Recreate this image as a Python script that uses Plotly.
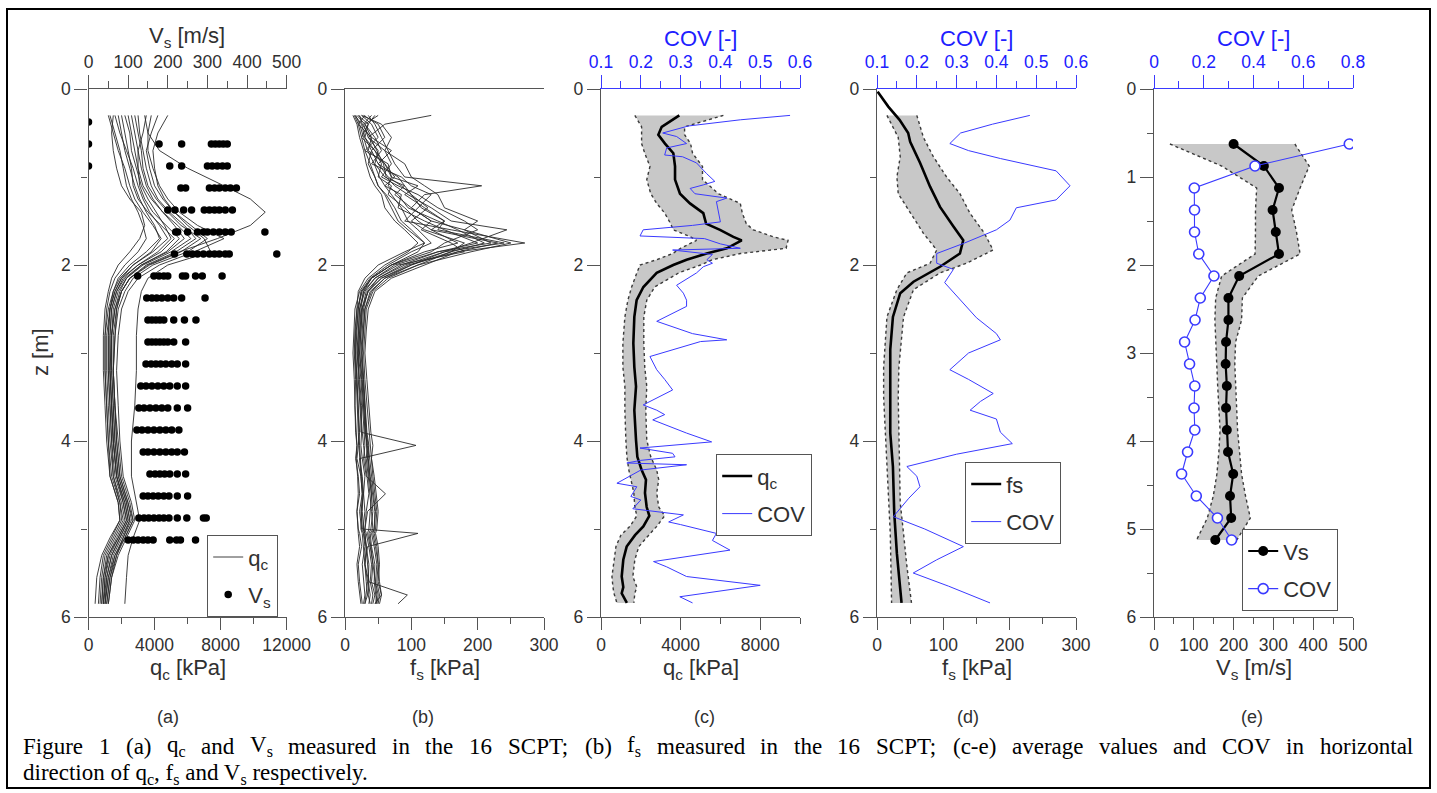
import re
import plotly.graph_objects as go

W, H = 1437, 793
def X(px): return px / W
def Y(py): return 1 - py / H

FONT = "Liberation Sans"
SERIF = "Liberation Serif"
AX = "#555555"
TXT = "#303030"
BLUE = "#3a3aff"
BLUE_T = "#2020ff"
GRAY_FILL = "#c8c8c8"

# ---------------- data: panel (a) qc profiles (kPa) ----------------
qc_depth = [0.3, 0.5, 0.7, 0.9, 1.1, 1.25, 1.4, 1.55, 1.7, 1.85, 2.0, 2.15, 2.3, 2.5, 2.8,
            3.2, 3.6, 4.0, 4.4, 4.7, 4.9, 5.1, 5.3, 5.55, 5.85]
qc_c1 = [1300, 1600, 1900, 2100, 2300, 2600, 3000, 3300, 3500, 3000, 2200, 1600, 1300, 1100, 1000, 1000, 1100, 1200, 1400, 1900, 2000, 1500, 1000, 800, 700]
qc_c2 = [1800, 2000, 2200, 2500, 2800, 3100, 3500, 4000, 4300, 3500, 2500, 1800, 1500, 1300, 1200, 1200, 1300, 1400, 1600, 2100, 2300, 1800, 1200, 900, 800]
qc_c3 = [2200, 2500, 2600, 2900, 3200, 3600, 4100, 4600, 5000, 4200, 3000, 2100, 1700, 1400, 1300, 1300, 1400, 1500, 1700, 2200, 2400, 1900, 1400, 1100, 900]
qc_c4 = [2600, 2800, 3000, 3200, 3500, 3900, 4500, 5200, 5800, 4800, 3200, 2300, 1800, 1500, 1400, 1400, 1500, 1600, 1800, 2300, 2500, 2000, 1500, 1200, 1000]
qc_c5 = [3000, 3100, 3300, 3500, 3800, 4200, 4900, 5800, 6500, 5300, 3500, 2500, 2000, 1700, 1500, 1500, 1600, 1700, 1900, 2400, 2600, 2100, 1600, 1300, 1100]
qc_c6 = [3500, 3300, 3000, 3000, 3300, 3800, 4500, 5400, 6200, 5000, 3300, 2300, 1900, 1600, 1400, 1400, 1500, 1600, 1800, 2300, 2500, 2100, 1700, 1400, 1200]
qc_c7 = [4200, 3800, 3500, 3700, 4000, 4500, 5200, 6200, 7200, 6000, 3900, 2700, 2200, 1800, 1600, 1500, 1600, 1700, 1900, 2400, 2700, 2200, 1700, 1300, 1100]
qc_c8 = [1500, 1400, 1500, 1700, 2000, 2500, 3200, 3400, 3100, 2500, 1800, 1400, 1200, 1000, 900, 900, 1000, 1100, 1300, 1800, 1900, 1400, 900, 700, 600]
qc_c9 = [2000, 2200, 2400, 2600, 2700, 3000, 3600, 4400, 5200, 4400, 3000, 2000, 1600, 1300, 1200, 1200, 1300, 1400, 1500, 2000, 2200, 1700, 1200, 1000, 900]
qc_c10 = [2800, 3000, 3200, 3300, 3600, 4100, 4800, 5600, 6800, 5600, 3700, 2500, 2000, 1700, 1600, 1500, 1600, 1800, 2000, 2500, 2700, 2200, 1600, 1200, 1000]
qc_c11 = [1600, 1900, 2300, 2700, 3000, 3300, 3700, 4300, 4800, 3900, 2700, 2000, 1600, 1300, 1100, 1100, 1200, 1300, 1500, 1900, 2100, 1600, 1100, 900, 800]
qc_c12 = [3800, 3600, 3600, 3900, 4300, 4800, 5500, 6600, 8200, 6400, 4300, 3000, 2400, 2000, 1800, 1700, 1800, 1900, 2100, 2600, 2800, 2300, 1800, 1400, 1200]
qc_c13 = [2400, 2600, 2800, 3000, 3100, 3400, 3900, 4700, 5500, 4700, 3200, 2200, 1700, 1400, 1300, 1300, 1400, 1500, 1700, 2100, 2300, 1800, 1300, 1000, 900]
qc_c14 = [4800, 4200, 3900, 4000, 4200, 4600, 5200, 6000, 7000, 7400, 4800, 3600, 3200, 3000, 2900, 2900, 2800, 2600, 2600, 2900, 3100, 2700, 2400, 2300, 2200]
qc_c15 = [1200, 1500, 1800, 2200, 2500, 2800, 3300, 3900, 4400, 3800, 2700, 1900, 1500, 1200, 1000, 1000, 1100, 1200, 1300, 1800, 1900, 1300, 800, 500, 400]
qc_c16 = [3400, 3600, 4300, 6000, 8200, 9800, 10700, 9800, 7800, 5500, 3600, 2500, 2000, 1600, 1400, 1300, 1400, 1500, 1700, 2200, 2400, 1900, 1400, 1100, 1000]
qc_curves = [qc_c1, qc_c2, qc_c3, qc_c4, qc_c5, qc_c6, qc_c7, qc_c8, qc_c9, qc_c10,
             qc_c11, qc_c12, qc_c13, qc_c14, qc_c15, qc_c16]

# panel (a) Vs measurements (m/s) per depth row
vs_row_depth = [0.375, 0.625, 0.875, 1.125, 1.375, 1.625, 1.875, 2.125, 2.375, 2.625,
                2.875, 3.125, 3.375, 3.625, 3.875, 4.125, 4.375, 4.625, 4.875, 5.125]
vs_rows = [
    [0],
    [0, 178, 235, 310, 320, 330, 340, 350],
    [0, 205, 235, 300, 312, 325, 338, 350],
    [233, 245, 305, 318, 330, 345, 358, 373],
    [200, 218, 240, 260, 292, 305, 318, 330, 345, 363],
    [220, 225, 250, 275, 290, 300, 315, 330, 345, 360, 445],
    [217, 248, 262, 275, 290, 305, 318, 330, 345, 355, 475],
    [124, 165, 178, 190, 200, 237, 245, 270, 287, 337],
    [147, 160, 172, 185, 200, 215, 235, 294],
    [150, 160, 170, 180, 190, 215, 242, 271],
    [150, 160, 170, 180, 190, 200, 215, 245],
    [145, 158, 170, 182, 195, 210, 224, 245],
    [132, 145, 160, 175, 190, 205, 224, 245],
    [127, 140, 155, 170, 185, 200, 224, 250],
    [122, 135, 150, 165, 180, 195, 210, 228],
    [138, 150, 165, 180, 195, 210, 224, 242],
    [155, 168, 180, 192, 205, 224, 245],
    [138, 150, 163, 176, 190, 203, 224, 250],
    [127, 140, 152, 165, 178, 190, 203, 224, 248, 290, 297],
    [100, 113, 125, 138, 150, 163, 205, 222, 232, 270],
]

# ---------------- panel (b) fs profiles (kPa) ----------------
fs_depth = [0.3, 0.4, 0.55, 0.7, 0.85, 1.0, 1.1, 1.2, 1.35, 1.5, 1.6, 1.75, 1.85, 2.0, 2.15,
            2.3, 2.5, 2.75, 3.0, 3.3, 3.6, 3.9, 4.05, 4.2, 4.4, 4.6, 4.8, 5.0, 5.05, 5.2,
            5.4, 5.6, 5.75, 5.85]
fs_c1 = [15, 25, 30, 40, 35, 45, 50, 60, 70, 80, 95, 120, 90, 50, 30, 20, 18, 15, 14, 16, 15, 17, 18, 16, 20, 22, 18, 20, 22, 25, 20, 22, 24, 26]
fs_c2 = [20, 35, 25, 45, 55, 50, 70, 65, 90, 110, 130, 170, 120, 70, 40, 25, 20, 18, 16, 18, 20, 22, 20, 18, 24, 26, 22, 25, 28, 30, 26, 28, 30, 28]
fs_c3 = [30, 20, 40, 35, 60, 75, 60, 85, 80, 120, 150, 200, 140, 75, 45, 30, 22, 20, 18, 22, 25, 24, 107, 22, 26, 28, 30, 27, 30, 32, 30, 34, 32, 30]
fs_c4 = [130, 60, 35, 50, 45, 60, 90, 75, 100, 130, 115, 160, 180, 80, 45, 28, 22, 20, 19, 20, 22, 25, 24, 26, 30, 28, 24, 26, 110, 34, 30, 36, 35, 38]
fs_c5 = [25, 40, 50, 30, 65, 70, 110, 90, 120, 150, 140, 240, 150, 90, 50, 35, 25, 22, 20, 24, 26, 28, 30, 28, 32, 61, 34, 30, 32, 36, 40, 38, 42, 40]
fs_c6 = [18, 30, 45, 55, 40, 85, 100, 130, 110, 90, 160, 271, 170, 95, 55, 35, 26, 24, 22, 25, 28, 30, 32, 34, 36, 40, 38, 36, 34, 38, 42, 40, 45, 42]
fs_c7 = [40, 28, 35, 60, 70, 55, 80, 110, 140, 180, 200, 150, 130, 70, 40, 28, 24, 22, 20, 21, 23, 26, 28, 30, 33, 36, 32, 30, 28, 32, 36, 35, 38, 36]
fs_c8 = [12, 18, 22, 28, 32, 38, 45, 55, 60, 75, 90, 110, 95, 60, 35, 22, 15, 13, 12, 14, 15, 16, 18, 17, 19, 20, 18, 19, 20, 22, 18, 20, 22, 24]
fs_c9 = [35, 45, 55, 65, 75, 90, 206, 120, 100, 130, 180, 220, 140, 85, 50, 32, 26, 24, 22, 26, 28, 30, 34, 32, 35, 38, 40, 42, 38, 40, 45, 44, 46, 48]
fs_c10 = [22, 26, 38, 48, 58, 62, 75, 95, 130, 160, 244, 190, 150, 100, 60, 40, 30, 28, 26, 28, 30, 33, 36, 35, 38, 42, 45, 44, 40, 44, 48, 46, 50, 48]
fs_c11 = [28, 50, 60, 40, 50, 80, 90, 100, 125, 100, 120, 180, 160, 110, 65, 42, 32, 30, 28, 30, 33, 36, 38, 40, 42, 45, 48, 46, 44, 48, 50, 48, 52, 50]
fs_c12 = [16, 22, 28, 34, 44, 52, 60, 70, 85, 95, 110, 130, 100, 65, 38, 24, 20, 17, 16, 18, 19, 21, 22, 23, 25, 27, 26, 28, 30, 32, 34, 36, 94, 80]
fs_c13 = [45, 35, 30, 45, 60, 70, 65, 80, 95, 140, 170, 210, 160, 100, 55, 34, 28, 26, 24, 27, 29, 31, 33, 35, 37, 40, 42, 39, 36, 39, 42, 45, 48, 46]
fs_c14 = [25, 55, 70, 60, 90, 100, 120, 140, 150, 200, 180, 250, 190, 110, 60, 38, 30, 27, 25, 28, 30, 32, 35, 37, 40, 43, 46, 44, 42, 46, 50, 52, 55, 52]
fs_c15 = [14, 20, 25, 30, 38, 45, 50, 62, 75, 85, 100, 120, 110, 70, 40, 26, 18, 16, 15, 17, 18, 20, 21, 22, 24, 26, 25, 24, 26, 28, 30, 32, 34, 30]
fs_c16 = [50, 30, 40, 70, 50, 65, 85, 100, 115, 150, 130, 230, 170, 120, 70, 45, 35, 32, 30, 33, 36, 39, 42, 40, 44, 47, 50, 48, 46, 50, 52, 50, 55, 45]
fs_curves = [fs_c1, fs_c2, fs_c3, fs_c4, fs_c5, fs_c6, fs_c7, fs_c8, fs_c9, fs_c10,
             fs_c11, fs_c12, fs_c13, fs_c14, fs_c15, fs_c16]

# ---------------- panel (c) mean qc, band, COV ----------------
qcm_depth = [0.3, 0.43, 0.52, 0.62, 0.73, 0.88, 1.03, 1.19, 1.30, 1.41, 1.53, 1.60, 1.68, 1.72,
             1.81, 1.87, 1.94, 2.0, 2.09, 2.25, 2.40, 2.59, 2.89, 3.16, 3.38, 3.65, 3.99, 4.18,
             4.33, 4.44, 4.59, 4.75, 4.85, 4.97, 5.07, 5.20, 5.35, 5.54, 5.66, 5.73, 5.84]
qc_mean = [3935, 3050, 2880, 3216, 3635, 3720, 3720, 3970, 4470, 5140, 5280, 5980, 6650, 7070,
           6320, 5310, 4300, 3630, 2800, 2130, 1790, 1675, 1625, 1675, 1760, 1675, 1760, 1826,
           2043, 2260, 2210, 2295, 2428, 2127, 1710, 1290, 1120, 1040, 1120, 1040, 1300]
qc_lo = [1700, 2040, 2040, 2040, 2200, 2460, 2300, 2500, 2800, 3200, 3500, 3630, 4500, 4800,
         4000, 3600, 2800, 1960, 1800, 1540, 1350, 1200, 1100, 1100, 1200, 1200, 1250, 1300,
         1400, 1500, 1650, 1700, 1800, 1450, 1000, 750, 650, 550, 600, 650, 800]
qc_hi = [6150, 4200, 4200, 4500, 4600, 5100, 5100, 5900, 7000, 7100, 7300, 7650, 8650, 9400,
         9300, 7000, 5600, 5000, 3900, 2700, 2300, 2150, 2150, 2200, 2300, 2250, 2300, 2500,
         2800, 2900, 2800, 2900, 3200, 2800, 2400, 1900, 1700, 1600, 1800, 1700, 1650]
covc_depth = [0.3, 0.35, 0.42, 0.50, 0.54, 0.62, 0.67, 0.75, 0.77, 0.84, 0.96, 1.05, 1.09, 1.13,
              1.19, 1.24, 1.28, 1.41, 1.51, 1.55, 1.60, 1.67, 1.70, 1.76, 1.81, 1.83, 1.88,
              1.94, 1.98, 2.02, 2.09, 2.23, 2.32, 2.40, 2.47, 2.64, 2.70, 2.78, 2.85, 2.87,
              3.04, 3.19, 3.30, 3.42, 3.59, 3.65, 3.70, 3.76, 3.91, 4.01, 4.08, 4.14, 4.18,
              4.22, 4.25, 4.27, 4.33, 4.48, 4.52, 4.63, 4.67, 4.77, 4.84, 4.92, 4.95, 5.05,
              5.13, 5.24, 5.37, 5.43, 5.54, 5.64, 5.77, 5.84]
cov_c = [0.575, 0.45, 0.32, 0.255, 0.29, 0.315, 0.265, 0.26, 0.305, 0.34, 0.365, 0.386, 0.357, 0.324,
         0.336, 0.416, 0.39, 0.395, 0.40, 0.33, 0.206, 0.198, 0.36, 0.40, 0.45, 0.28, 0.38,
         0.366, 0.38, 0.357, 0.34, 0.29, 0.307, 0.315, 0.315, 0.24, 0.28, 0.33, 0.416, 0.35,
         0.223, 0.24, 0.26, 0.28, 0.206, 0.24, 0.26, 0.23, 0.315, 0.378, 0.198, 0.28, 0.286,
         0.20, 0.165, 0.315, 0.20, 0.14, 0.19, 0.175, 0.20, 0.18, 0.307, 0.27, 0.30, 0.39,
         0.38, 0.424, 0.232, 0.265, 0.315, 0.50, 0.298, 0.33]

# ---------------- panel (d) mean fs, band, COV ----------------
fsm_depth = [0.03, 0.2, 0.35, 0.5, 0.6, 0.84, 1.11, 1.34, 1.56, 1.72, 1.87, 2.02, 2.19, 2.32,
             2.59, 2.96, 3.5, 3.91, 4.29, 4.82, 5.28, 5.84]
fs_mean = [1, 17, 34, 47, 50, 65, 80, 95, 115, 130, 125, 95, 55, 35, 24, 20, 20, 20, 24, 26, 30, 37]
fsb_depth = [0.3, 0.55, 0.77, 1.0, 1.19, 1.41, 1.64, 1.83, 1.98, 2.09, 2.28, 2.59, 3.16, 3.5,
             4.29, 4.7, 5.05, 5.42, 5.84]
fs_lo = [15, 32, 35, 30, 32, 50, 70, 90, 80, 45, 30, 15, 10, 10, 15, 17, 20, 21, 22]
fs_hi = [60, 70, 85, 105, 125, 140, 162, 175, 135, 95, 55, 40, 33, 32, 34, 35, 40, 45, 52]
covd_depth = [0.3, 0.4, 0.5, 0.62, 0.7, 0.79, 0.93, 1.1, 1.26, 1.35, 1.49, 1.6, 1.75, 1.87,
              1.98, 2.05, 2.2, 2.47, 2.6, 2.78, 2.85, 3.0, 3.19, 3.3, 3.46, 3.55, 3.65, 3.75,
              3.9, 4.03, 4.15, 4.29, 4.4, 4.52, 4.65, 4.86, 5.0, 5.2, 5.35, 5.5, 5.65, 5.84]
cov_d = [0.484, 0.39, 0.31, 0.283, 0.33, 0.41, 0.55, 0.585, 0.55, 0.45, 0.434, 0.40, 0.32, 0.25,
         0.25, 0.292, 0.27, 0.325, 0.35, 0.40, 0.41, 0.33, 0.283, 0.33, 0.392, 0.36, 0.334, 0.40,
         0.41, 0.44, 0.30, 0.175, 0.20, 0.208, 0.18, 0.141, 0.22, 0.317, 0.25, 0.191, 0.28, 0.384]

# ---------------- panel (e) mean Vs, band, COV ----------------
vse_depth = [0.625, 0.875, 1.125, 1.375, 1.625, 1.875, 2.125, 2.375, 2.625, 2.875, 3.125,
             3.375, 3.625, 3.875, 4.125, 4.375, 4.625, 4.875, 5.125]
vs_mean = [200, 276, 314, 298, 306, 314, 214, 187, 187, 181, 180, 183, 181, 183, 186, 199, 191, 194, 154]
vs_lo = [40, 170, 258, 255, 255, 254, 170, 155, 153, 155, 158, 160, 163, 166, 163, 158, 149, 134, 107]
vs_hi = [354, 390, 367, 346, 358, 367, 262, 222, 220, 205, 203, 205, 207, 210, 215, 220, 230, 242, 208]
cov_e = [0.785, 0.406, 0.162, 0.163, 0.163, 0.180, 0.241, 0.186, 0.165, 0.123, 0.143, 0.164,
         0.161, 0.164, 0.135, 0.111, 0.170, 0.255, 0.312]

# caption words
caption_line1 = ["Figure", "1", "(a)", "q<sub>c</sub>", "and", "V<sub>s</sub>", "measured", "in",
                 "the", "16", "SCPT;", "(b)", "f<sub>s</sub>", "measured", "in", "the", "16",
                 "SCPT;", "(c-e)", "average", "values", "and", "COV", "in", "horizontal"]
caption_line2 = "direction of q<sub>c</sub>, f<sub>s</sub> and V<sub>s</sub> respectively."

# ---------------- figure ----------------
fig = go.Figure()

# (a) qc curves
for i, c in enumerate(qc_curves):
    fig.add_trace(go.Scatter(x=c, y=qc_depth, mode="lines", xaxis="x", yaxis="y",
                             line=dict(color="#2a2a2a", width=0.9), name="q<sub>c</sub>",
                             showlegend=(i == 0), legend="legend", legendgroup="qa",
                             hoverinfo="skip"))
vs_x, vs_y = [], []
for z, row in zip(vs_row_depth, vs_rows):
    for v in row:
        vs_x.append(v)
        vs_y.append(z)
fig.add_trace(go.Scatter(x=vs_x, y=vs_y, mode="markers", xaxis="x2", yaxis="y",
                         marker=dict(color="black", size=7.5), name="V<sub>s</sub>",
                         legend="legend", legendgroup="va"))

# (b) fs curves
for c in fs_curves:
    fig.add_trace(go.Scatter(x=c, y=fs_depth, mode="lines", xaxis="x3", yaxis="y2",
                             line=dict(color="#2a2a2a", width=0.9), showlegend=False,
                             hoverinfo="skip"))

def band(lo, hi, z, xa, ya):
    fig.add_trace(go.Scatter(x=lo + hi[::-1], y=z + z[::-1], mode="lines", fill="toself",
                             fillcolor=GRAY_FILL, line=dict(width=0), xaxis=xa, yaxis=ya,
                             showlegend=False, hoverinfo="skip"))
    for edge in (lo, hi):
        fig.add_trace(go.Scatter(x=edge, y=z, mode="lines", xaxis=xa, yaxis=ya,
                                 line=dict(color="#3a3a3a", width=1.4, dash="dot"),
                                 showlegend=False, hoverinfo="skip"))

# (c)
band(qc_lo, qc_hi, qcm_depth, "x4", "y3")
fig.add_trace(go.Scatter(x=cov_c, y=covc_depth, mode="lines", xaxis="x5", yaxis="y3",
                         line=dict(color=BLUE, width=1), name="COV", legend="legend2",
                         legendgroup="cc", legendrank=2))
fig.add_trace(go.Scatter(x=qc_mean, y=qcm_depth, mode="lines", xaxis="x4", yaxis="y3",
                         line=dict(color="black", width=2.6), name="q<sub>c</sub>",
                         legend="legend2", legendgroup="qc", legendrank=1))

# (d)
band(fs_lo, fs_hi, fsb_depth, "x6", "y4")
fig.add_trace(go.Scatter(x=cov_d, y=covd_depth, mode="lines", xaxis="x7", yaxis="y4",
                         line=dict(color=BLUE, width=1), name="COV", legend="legend3",
                         legendgroup="cd", legendrank=2))
fig.add_trace(go.Scatter(x=fs_mean, y=fsm_depth, mode="lines", xaxis="x6", yaxis="y4",
                         line=dict(color="black", width=2.6), name="fs",
                         legend="legend3", legendgroup="fd", legendrank=1))

# (e)
band(vs_lo, vs_hi, vse_depth, "x8", "y5")
fig.add_trace(go.Scatter(x=vs_mean, y=vse_depth, mode="lines+markers", xaxis="x8", yaxis="y5",
                         line=dict(color="black", width=2.2),
                         marker=dict(color="black", size=10), name="Vs",
                         legend="legend4", legendgroup="ve", legendrank=1))
fig.add_trace(go.Scatter(x=cov_e, y=vse_depth, mode="lines+markers", xaxis="x9", yaxis="y5",
                         line=dict(color=BLUE, width=1.1),
                         marker=dict(color="white", size=10, symbol="circle",
                                     line=dict(color=BLUE, width=1.6)),
                         name="COV", legend="legend4", legendgroup="ce", legendrank=2))

# ---------------- axes ----------------
ydom = [Y(617), Y(89)]
tickfont = dict(family=FONT, size=17.5, color=TXT)
bluefont = dict(family=FONT, size=17.5, color=BLUE_T)

def xax(dom, rng, dtick, mdtick, anchor, color=AX, font=tickfont, side="bottom",
        overlaying=None, tick0=0, ticklen=12, mlen=6, mirror=False, fmt=None):
    d = dict(range=rng, anchor=anchor, side=side, showgrid=False, zeroline=False,
             showline=True, linecolor=color, linewidth=1.3, ticks="outside",
             tickcolor=color, tickwidth=1.3, ticklen=ticklen, tickfont=font,
             tickmode="linear", tick0=tick0, dtick=dtick, mirror=mirror,
             minor=dict(ticks="outside", tickmode="linear", tick0=tick0, dtick=mdtick,
                        ticklen=mlen, tickcolor=color, tickwidth=1.3, showgrid=False))
    if fmt:
        d["tickformat"] = fmt
    if overlaying:
        d["overlaying"] = overlaying
    else:
        d["domain"] = dom
    return d

def yax(anchor, dtick=2, mdtick=1):
    return dict(domain=ydom, range=[6, 0], anchor=anchor, showgrid=False, zeroline=False,
                showline=True, linecolor=AX, linewidth=1.3, ticks="outside", tickcolor=AX,
                tickwidth=1.3, ticklen=13, tickfont=tickfont, tickmode="linear", tick0=0,
                dtick=dtick,
                minor=dict(ticks="outside", tickmode="linear", tick0=0, dtick=mdtick,
                           ticklen=6, tickcolor=AX, tickwidth=1.3, showgrid=False))

PA = [X(88.5), X(286.7)]
PB = [X(345), X(544)]
PC = [X(601), X(800)]
PD = [X(877), X(1076)]
PE = [X(1154), X(1353)]

layout = dict(
    width=W, height=H, margin=dict(l=0, r=0, t=0, b=0, autoexpand=False),
    paper_bgcolor="white", plot_bgcolor="rgba(0,0,0,0)",
    xaxis=xax(PA, [0, 12000], 4000, 2000, "y", fmt="d"),
    xaxis2=xax(None, [0, 500], 100, 50, "y", side="top", overlaying="x", ticklen=13, mlen=7),
    yaxis=yax("x"),
    xaxis3=xax(PB, [0, 300], 100, 50, "y2", mirror=True),
    yaxis2=yax("x3"),
    xaxis4=xax(PC, [0, 10000], 4000, 2000, "y3", fmt="d"),
    xaxis5=xax(None, [0.1, 0.6], 0.1, 0.05, "y3", color=BLUE, font=bluefont, side="top",
               overlaying="x4", tick0=0.1, ticklen=13, mlen=7),
    yaxis3=yax("x4"),
    xaxis6=xax(PD, [0, 300], 100, 50, "y4"),
    xaxis7=xax(None, [0.1, 0.6], 0.1, 0.05, "y4", color=BLUE, font=bluefont, side="top",
               overlaying="x6", tick0=0.1, ticklen=13, mlen=7),
    yaxis4=yax("x6"),
    xaxis8=xax(PE, [0, 500], 100, 50, "y5"),
    xaxis9=xax(None, [0, 0.8], 0.2, 0.1, "y5", color=BLUE, font=bluefont, side="top",
               overlaying="x8", ticklen=13, mlen=7),
    yaxis5=yax("x8", dtick=1, mdtick=0.5),
    font=dict(family=FONT, color=TXT),
)

legend_common = dict(bgcolor="white", bordercolor="#555555", borderwidth=1.2,
                     font=dict(family=FONT, size=22, color=TXT), xanchor="left",
                     yanchor="top", tracegroupgap=6, itemwidth=30, traceorder="grouped")
layout["legend"] = dict(x=X(207), y=Y(535), **legend_common)
layout["legend2"] = dict(x=X(716), y=Y(454), **legend_common)
layout["legend3"] = dict(x=X(965), y=Y(462), **legend_common)
layout["legend4"] = dict(x=X(1242), y=Y(529), **legend_common)
layout["showlegend"] = True

def ann(text, x, y, size=22, color=TXT, family=FONT, angle=0, xanchor="center"):
    return dict(text=text, x=X(x), y=Y(y), xref="paper", yref="paper", showarrow=False,
                font=dict(family=family, size=size, color=color), textangle=angle,
                xanchor=xanchor, yanchor="middle", borderpad=0)

annotations = [
    ann("V<sub>s</sub> [m/s]", 187, 37),
    ann("COV [-]", 700.5, 38, color=BLUE_T),
    ann("COV [-]", 976.5, 38, color=BLUE_T),
    ann("COV [-]", 1253.5, 38, color=BLUE_T),
    ann("q<sub>c</sub> [kPa]", 187.6, 669),
    ann("f<sub>s</sub> [kPa]", 444.5, 669),
    ann("q<sub>c</sub> [kPa]", 700.5, 669),
    ann("f<sub>s</sub> [kPa]", 976.5, 669),
    ann("V<sub>s</sub> [m/s]", 1253.5, 669),
    ann("z [m]", 40, 352, angle=-90),
    ann("(a)", 168, 717, size=18),
    ann("(b)", 423, 717, size=18),
    ann("(c)", 704, 717, size=18),
    ann("(d)", 968, 717, size=18),
    ann("(e)", 1252, 717, size=18),
]

# justified caption line 1 (Times metrics, Liberation Serif is metric compatible)
TIMES = {" ": 250, "(": 333, ")": 333, ";": 278, ",": 250, ".": 250, "-": 333, "1": 500,
         "6": 500, "F": 556, "S": 556, "C": 667, "P": 556, "T": 611, "O": 722, "V": 722,
         "a": 444, "b": 500, "c": 444, "d": 500, "e": 444, "f": 333, "g": 500, "h": 500,
         "i": 278, "l": 278, "m": 778, "n": 500, "o": 500, "p": 500, "q": 500, "r": 333,
         "s": 389, "t": 278, "u": 500, "v": 500, "y": 500, "z": 444}
CAP = 23
def text_width(s, size):
    w = 0.0
    for part, sub in re.findall(r"([^<]+)|<sub>([^<]*)</sub>", s):
        if part:
            w += sum(TIMES.get(ch, 500) for ch in part) * size / 1000
        if sub:
            w += sum(TIMES.get(ch, 500) for ch in sub) * size * 0.7 / 1000
    return w

left, right = 22, 1412
widths = [text_width(w, CAP) for w in caption_line1]
gap = (right - left - sum(widths)) / (len(caption_line1) - 1)
xpos = left
for word, wdt in zip(caption_line1, widths):
    annotations.append(ann(word, xpos, 746, size=CAP, color="black", family=SERIF,
                           xanchor="left"))
    xpos += wdt + gap
annotations.append(ann(caption_line2, left, 774, size=CAP, color="black", family=SERIF,
                       xanchor="left"))

layout["annotations"] = annotations
layout["shapes"] = [dict(type="rect", xref="paper", yref="paper", x0=X(7), x1=X(1430),
                         y0=Y(788), y1=Y(9), line=dict(color="black", width=2))]

fig.update_layout(**layout)
fig.write_html("out.html", config={"responsive": False, "displayModeBar": False},
               post_script="document.body.style.margin='0px';document.body.style.overflow='hidden';")
